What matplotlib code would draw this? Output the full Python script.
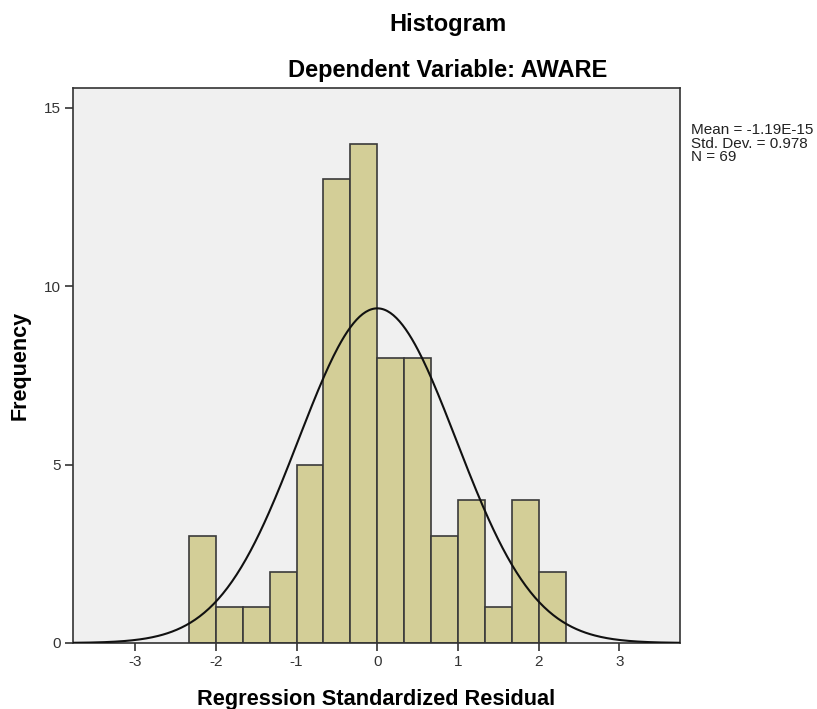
import numpy as np
import matplotlib
matplotlib.use('Agg')
import matplotlib.pyplot as plt

plt.rcParams['font.family'] = ['Liberation Sans', 'DejaVu Sans']

# bin edges (width 1/3) and counts
bin_edges = np.arange(-7, 8) / 3.0
counts = [3, 1, 1, 2, 5, 13, 14, 8, 8, 3, 4, 1, 4, 2]
mean = -1.19e-15
std = 0.978
n = 69
xticks = [-3, -2, -1, 0, 1, 2, 3]
yticks = [0, 5, 10, 15]

W, H = 817, 709
fig = plt.figure(figsize=(W / 100, H / 100), dpi=100)
ax = fig.add_axes([73 / W, 1 - 643 / H, (680 - 73) / W, (643 - 88) / H])
ax.set_facecolor('#F0F0F0')

widths = np.diff(bin_edges)
ax.bar(bin_edges[:-1], counts, width=widths, align='edge',
       color='#D3CE97', edgecolor='#3A3A3A', linewidth=1.2, zorder=2)

# normal curve scaled to counts
xs = np.linspace(-3.8, 3.8, 400)
bw = widths[0]
ys = n * bw / (std * np.sqrt(2 * np.pi)) * np.exp(-0.5 * ((xs - mean) / std) ** 2)
ax.plot(xs, ys, color='#111111', linewidth=1.5, zorder=3)

ax.set_xlim(-3.77, 3.75)
ax.set_ylim(0, 15.56)
ax.set_xticks(xticks)
ax.set_xticklabels([str(t) for t in xticks])
ax.set_yticks(yticks)
ax.tick_params(direction='out', length=6, width=1.2, color='#333333',
               labelsize=11, labelcolor='#333333', pad=3)
for s in ax.spines.values():
    s.set_color('#333333')
    s.set_linewidth(1.2)

ax.set_xlabel('Regression Standardized Residual', fontsize=15.7, fontweight='bold')
ax.xaxis.set_label_coords(0.5, (643 - 699) / 555)
ax.xaxis.label.set_va('center')
ax.set_ylabel('Frequency', fontsize=15.5, fontweight='bold')
ax.yaxis.set_label_coords((20 - 73) / 607, 0.5)
ax.yaxis.label.set_va('center')

fig.text(448 / W, 1 - 25 / H, 'Histogram', ha='center', va='center',
         fontsize=17, fontweight='bold')
fig.text(448 / W, 1 - 70 / H, 'Dependent Variable: AWARE', ha='center', va='center',
         fontsize=17, fontweight='bold')

stats = 'Mean = -1.19E-15\nStd. Dev. = 0.978\nN = 69'
fig.text(691 / W, 1 - 123 / H, stats, ha='left', va='top', fontsize=11,
         color='#222222', linespacing=0.96)

fig.savefig('out.png', dpi=100)
